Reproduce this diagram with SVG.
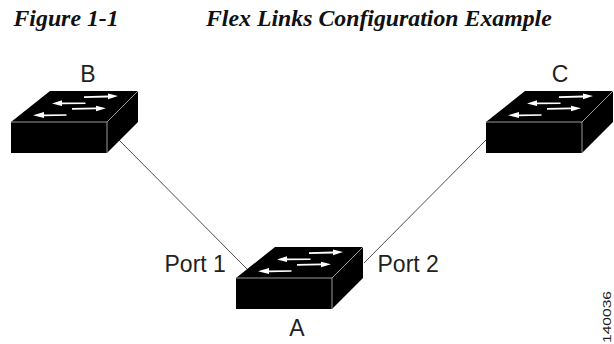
<svg xmlns="http://www.w3.org/2000/svg" width="614" height="344" viewBox="0 0 614 344">
<style>
.t{font-family:"Liberation Serif",serif;font-weight:bold;font-style:italic;font-size:23.800px;fill:#111}
.l{font-family:"Liberation Sans",sans-serif;font-size:23px;fill:#231f20}
.e{stroke:#9a9a9a;stroke-width:1;fill:none}
.c{stroke:#222;stroke-width:.8;fill:none}
</style>
<defs>
<g id="sw">
<path d="M11 122L50 91H138V122L107 153H11Z" fill="#000"/>
<path class="e" d="M11 122H107V153M107 122L138 91"/>
<path fill="#fff" d="M84 96.300L108 95.600V93.400L118 96L108 99.200V97.600L84 98ZM85.500 102.400L62 102.600V100.200L52 103.500L62 106V104.200L85.500 104ZM72 108.100L96 107.600V105.800L106 108.300L96 111.200V109.300L72 109.700ZM66.500 114.200L44 114.400V112L33 115.200L44 118V116.200L66.500 115.800Z"/>
</g>
</defs>
<g id="title">
<text class="t" x="13.500" y="26">Figure 1-1</text>
<text class="t" x="206" y="26">Flex Links Configuration Example</text>
</g>
<g id="connectors">
<path class="c" d="M119 140L247 269"/>
<path class="c" d="M486 140L364 263"/>
</g>
<g id="node-b"><use href="#sw"/><text class="l" x="88" y="82" text-anchor="middle">B</text></g>
<g id="node-c"><use href="#sw" x="475"/><text class="l" x="560" y="82" text-anchor="middle">C</text></g>
<g id="node-a"><use href="#sw" x="225" y="156"/><text class="l" x="297" y="336" text-anchor="middle">A</text></g>
<g id="labels">
<text class="l" x="164.500" y="272">Port 1</text>
<text class="l" x="377.500" y="272">Port 2</text>
<text transform="translate(611 343) rotate(-90) scale(1 .72)" font-family="Liberation Sans,sans-serif" font-size="15.600" fill="#222">140036</text>
</g>
</svg>
